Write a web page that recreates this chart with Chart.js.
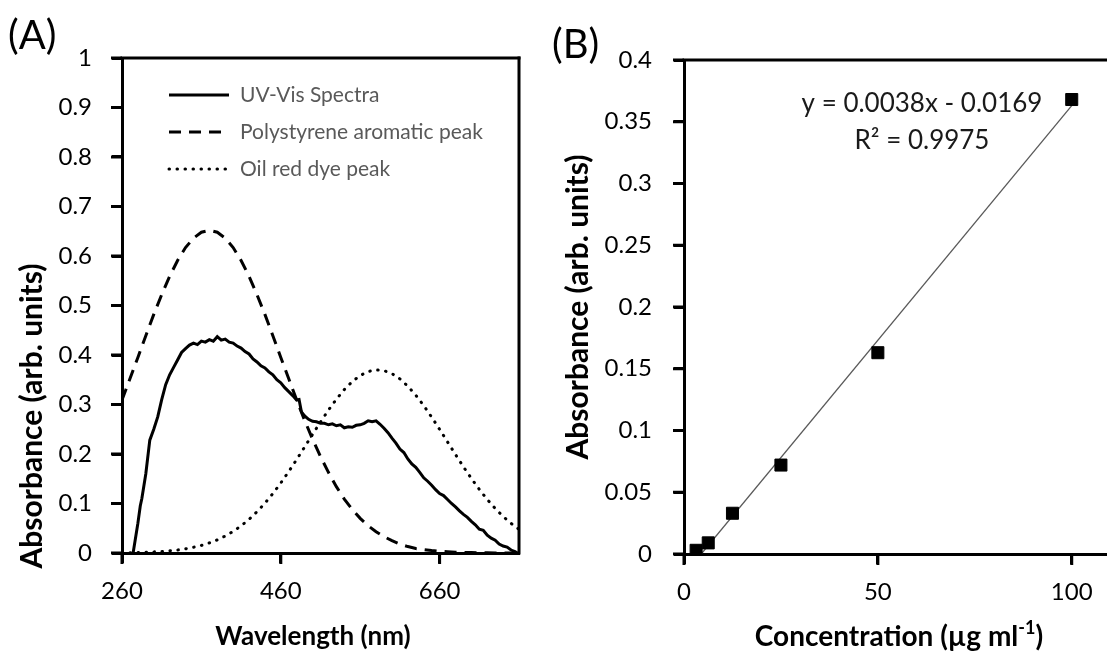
<!DOCTYPE html>
<html lang="en">
<head>
<meta charset="UTF-8">
<title>UV-Vis spectra and calibration curve</title>
<script src="https://cdn.jsdelivr.net/npm/chart.js"></script>
<style>
  html, body { margin: 0; padding: 0; background: #fff; overflow: hidden; }
  #wrapA { position: absolute; left: 0; top: 0; width: 540px; height: 655px; }
  #wrapB { position: absolute; left: 540px; top: 0; width: 580px; height: 655px; }
</style>
</head>
<body>
<div id="wrapA"><canvas id="chartA"></canvas></div>
<div id="wrapB"><canvas id="chartB"></canvas></div>

<script>
// ---- panel A: spectra ----
const uvWavelength = [274, 280, 283, 285,
  290, 295, 300, 305, 310, 315, 320, 325, 330, 335, 340, 345, 350, 355, 360, 365, 370, 375, 380, 385,
  390, 395, 400, 405, 410, 415, 420, 425, 430, 435, 440, 445, 450, 455, 460, 465, 470, 475, 480,
  483, 486,
  490, 495, 500, 505, 510, 515, 520, 525, 530, 535, 540, 545, 550, 555, 560, 565, 570, 575, 580, 585,
  590, 595, 600, 605, 610, 615, 620, 625, 630, 635, 640, 645, 650, 655, 660, 665, 670, 675, 680, 685,
  690, 695, 700, 705, 710, 715, 720, 725, 730, 735, 740, 745, 750, 755, 758];
const uvAbsorbance = [0, 0.06, 0.095, 0.11,
  0.16, 0.228, 0.25, 0.275, 0.31, 0.34, 0.36, 0.375, 0.39, 0.405, 0.413, 0.42, 0.424, 0.421, 0.428, 0.426, 0.431, 0.428, 0.437, 0.43,
  0.432, 0.426, 0.424, 0.418, 0.414, 0.407, 0.402, 0.392, 0.386, 0.378, 0.374, 0.366, 0.36, 0.35, 0.344, 0.334, 0.326, 0.318, 0.309,
  0.31, 0.285,
  0.277, 0.27, 0.266, 0.265, 0.262, 0.262, 0.259, 0.261, 0.257, 0.259, 0.253, 0.255, 0.254, 0.258, 0.259, 0.262, 0.267, 0.265, 0.267, 0.26,
  0.252, 0.243, 0.232, 0.222, 0.21, 0.203, 0.19, 0.18, 0.173, 0.163, 0.152, 0.145, 0.137, 0.128, 0.12, 0.116, 0.108, 0.1, 0.093, 0.085,
  0.078, 0.072, 0.064, 0.057, 0.048, 0.046, 0.036, 0.03, 0.026, 0.018, 0.014, 0.012, 0.006, 0.003, 0];

const peakWavelength = [260, 270, 280, 290, 300, 310, 320, 330, 340, 350, 360, 370, 380, 390, 400, 410, 420,
  430, 440, 450, 460, 470, 480, 490, 500, 510, 520, 530, 540, 550, 560, 570, 580, 590, 600, 610, 620, 630,
  640, 650, 660, 670, 680, 690, 700, 710, 720, 730, 740, 750, 760];
const polystyrenePeak = [0.309, 0.352, 0.395, 0.439, 0.482, 0.522, 0.559, 0.591, 0.617, 0.636, 0.648, 0.652,
  0.648, 0.636, 0.617, 0.591, 0.559, 0.522, 0.482, 0.439, 0.395, 0.352, 0.309, 0.268, 0.23, 0.195, 0.163,
  0.134, 0.109, 0.088, 0.07, 0.055, 0.043, 0.033, 0.025, 0.018, 0.013, 0.009, 0.007, 0.005, 0.0035, 0.0025,
  0.0017, 0.0012, 0.0008, 0.0005, 0.0003, 0.0002, 0.0001, 0, 0];
const oilRedPeak = [0.0005, 0.0007, 0.001, 0.0015, 0.0022, 0.0031, 0.0044, 0.0061, 0.0084, 0.0115,
  0.0154, 0.0203, 0.0265, 0.0343, 0.0436, 0.0548, 0.068, 0.0833, 0.1006, 0.12,
  0.1415, 0.1646, 0.189, 0.2142, 0.2397, 0.2648, 0.2887, 0.3107, 0.3302, 0.3463,
  0.3586, 0.3666, 0.3699, 0.3685, 0.3623, 0.3517, 0.337, 0.3189, 0.2978, 0.2745,
  0.2498, 0.2244, 0.199, 0.1742, 0.1506, 0.1285, 0.1082, 0.09, 0.0738, 0.0598, 0.0478];

const xTicksA = [260, 460, 660];
const yTicksA = [0, 0.1, 0.2, 0.3, 0.4, 0.5, 0.6, 0.7, 0.8, 0.9, 1];
const legendA = ['UV-Vis Spectra', 'Polystyrene aromatic peak', 'Oil red dye peak'];

// ---- panel B: calibration ----
const concentration = [3.125, 6.25, 12.5, 25, 50, 100];
const absorbance = [0.003, 0.009, 0.033, 0.072, 0.163, 0.368];
const trendX = [4.45, 100];
const trendY = [0, 0.3631];
const xTicksB = [0, 50, 100];
const yTicksB = [0, 0.05, 0.1, 0.15, 0.2, 0.25, 0.3, 0.35, 0.4];
const fitText = ['y = 0.0038x - 0.0169', 'R\u00B2 = 0.9975'];

Chart.defaults.font.family = 'Lato, "Open Sans", sans-serif';
Chart.defaults.color = '#000';

function pairs(xs, ys) {
  return xs.map((x, i) => ({ x: x, y: ys[i] }));
}

function fmt(v) {
  return String(+v.toFixed(3));
}

function axis(ticks, extra) {
  return Object.assign({
    type: 'linear',
    afterBuildTicks: s => { s.ticks = ticks.map(v => ({ value: v })); },
    grid: { drawOnChartArea: false, drawTicks: true, tickLength: 10, tickWidth: 3, tickColor: '#000' },
    border: { display: true, width: 3, color: '#000' }
  }, extra);
}

// frame, tick marks and texts drawn on top
function decor(cfg) {
  return {
    id: 'decor',
    afterDraw(chart) {
      const c = chart.ctx, a = chart.chartArea;
      const sx = chart.scales.x, sy = chart.scales.y;
      c.save();
      c.setLineDash([]);
      c.fillStyle = '#000';
      // frame: top and right
      c.fillRect(a.left - 1.5, a.top - 1.5, a.right - a.left + 3, 3);
      c.fillRect(a.right - 1.5, a.top - 1.5, 3, a.bottom - a.top + 3);

      // outward tick marks
      sx.ticks.forEach(t => {
        const px = sx.getPixelForValue(t.value);
        c.fillRect(px - 1.5, a.bottom, 3, 11);
      });
      sy.ticks.forEach(t => {
        const py = sy.getPixelForValue(t.value);
        c.fillRect(a.left - 11, py - 1.5, 11, 3);
      });

      c.textBaseline = 'middle';
      c.textAlign = 'left';
      c.font = '40px Lato';
      c.fillText(cfg.panel, cfg.panelX, cfg.panelY);

      // y title
      c.font = 'bold 30px Lato';
      c.textAlign = 'center';
      c.save();
      c.translate(cfg.yTitleX, cfg.yTitleY);
      c.rotate(-Math.PI / 2);
      c.fillText('Absorbance (arb. units)', 0, 0);
      c.restore();

      // x title (optional superscript)
      const parts = cfg.xTitle;
      const big = 'bold ' + cfg.xFont + 'px Lato', small = 'bold ' + Math.round(cfg.xFont * 0.65) + 'px Lato';
      c.textAlign = 'left';
      let w = 0;
      parts.forEach(p => { c.font = p.sup ? small : big; w += c.measureText(p.t).width; });
      let x = cfg.xTitleX - w / 2;
      parts.forEach(p => {
        c.font = p.sup ? small : big;
        c.fillText(p.t, x, cfg.xTitleY - (p.sup ? 9 : 0));
        x += c.measureText(p.t).width;
      });

      if (cfg.after) cfg.after(c, chart);
      c.restore();
    }
  };
}

const chartA = new Chart(document.getElementById('chartA'), {
  type: 'line',
  data: {
    datasets: [
      { label: legendA[0], data: pairs(uvWavelength, uvAbsorbance), borderColor: '#000', borderWidth: 3 },
      { label: legendA[1], data: pairs(peakWavelength, polystyrenePeak), borderColor: '#000', borderWidth: 3, borderDash: [12, 8] },
      { label: legendA[2], data: pairs(peakWavelength, oilRedPeak), borderColor: '#000', borderWidth: 3,
        borderDash: [0.5, 7.5], borderCapStyle: 'round' }
    ]
  },
  options: {
    responsive: true,
    maintainAspectRatio: false,
    animation: false,
    parsing: false,
    elements: { point: { radius: 0 }, line: { tension: 0, fill: false } },
    layout: { padding: { top: 58, right: 21, left: 0, bottom: 0 } },
    plugins: { legend: { display: false }, tooltip: { enabled: false } },
    scales: {
      x: axis(xTicksA, { min: 260, max: 760, afterFit: s => { s.height = 102; },
        ticks: { font: { size: 24 }, color: '#000', autoSkip: false, maxRotation: 0, padding: 14, callback: v => fmt(v) } }),
      y: axis(yTicksA, { min: 0, max: 1, afterFit: s => { s.width = 122; },
        ticks: { font: { size: 24 }, color: '#000', autoSkip: false, padding: 20, callback: v => fmt(v) } })
    }
  },
  plugins: [decor({
    panel: '(A)', panelX: 8, panelY: 36,
    yTitleX: 32, yTitleY: 416,
    xTitle: [{ t: 'Wavelength (nm)' }], xFont: 26, xTitleX: 313, xTitleY: 637,
    after: (c, chart) => {
      const ds = chart.data.datasets;
      const rows = [95, 132, 169];
      c.font = '21px Lato';
      c.fillStyle = '#595959';
      rows.forEach((y, i) => {
        c.strokeStyle = '#000';
        c.lineWidth = 3;
        c.lineCap = ds[i].borderCapStyle || 'butt';
        c.setLineDash(ds[i].borderDash || []);
        c.beginPath();
        c.moveTo(169, y);
        c.lineTo(229, y);
        c.stroke();
        c.setLineDash([]);
        c.fillText(legendA[i], 240, y);
      });
    }
  })]
});

const chartB = new Chart(document.getElementById('chartB'), {
  type: 'scatter',
  data: {
    datasets: [
      { label: 'Absorbance', data: pairs(concentration, absorbance), pointStyle: 'rect', pointRadius: 8.5,
        backgroundColor: '#000', borderColor: '#000', borderWidth: 1 },
      { label: 'Linear fit', type: 'line', data: pairs(trendX, trendY), borderColor: '#595959', borderWidth: 1.3,
        pointRadius: 0, tension: 0 }
    ]
  },
  options: {
    responsive: true,
    maintainAspectRatio: false,
    animation: false,
    parsing: false,
    layout: { padding: { top: 60, right: 6, left: 0, bottom: 0 } },
    plugins: { legend: { display: false }, tooltip: { enabled: false } },
    scales: {
      x: axis(xTicksB, { min: 0, max: 110, afterFit: s => { s.height = 101; },
        ticks: { font: { size: 24 }, color: '#000', autoSkip: false, maxRotation: 0, padding: 14, callback: v => fmt(v) } }),
      y: axis(yTicksB, { min: 0, max: 0.4, afterFit: s => { s.width = 144; },
        ticks: { font: { size: 24 }, color: '#000', autoSkip: false, padding: 22, callback: v => fmt(v) } })
    }
  },
  plugins: [decor({
    panel: '(B)', panelX: 12, panelY: 45,
    yTitleX: 38, yTitleY: 307,
    xTitle: [{ t: 'Concentration (\u00B5g ml' }, { t: '-1', sup: true }, { t: ')' }], xFont: 28, xTitleX: 359, xTitleY: 637,
    after: (c) => {
      c.font = '26px Lato';
      c.fillStyle = '#1a1a1a';
      c.textAlign = 'center';
      c.fillText(fitText[0], 382, 104);
      c.fillText(fitText[1], 382, 141);
    }
  })]
});
</script>
</body>
</html>
